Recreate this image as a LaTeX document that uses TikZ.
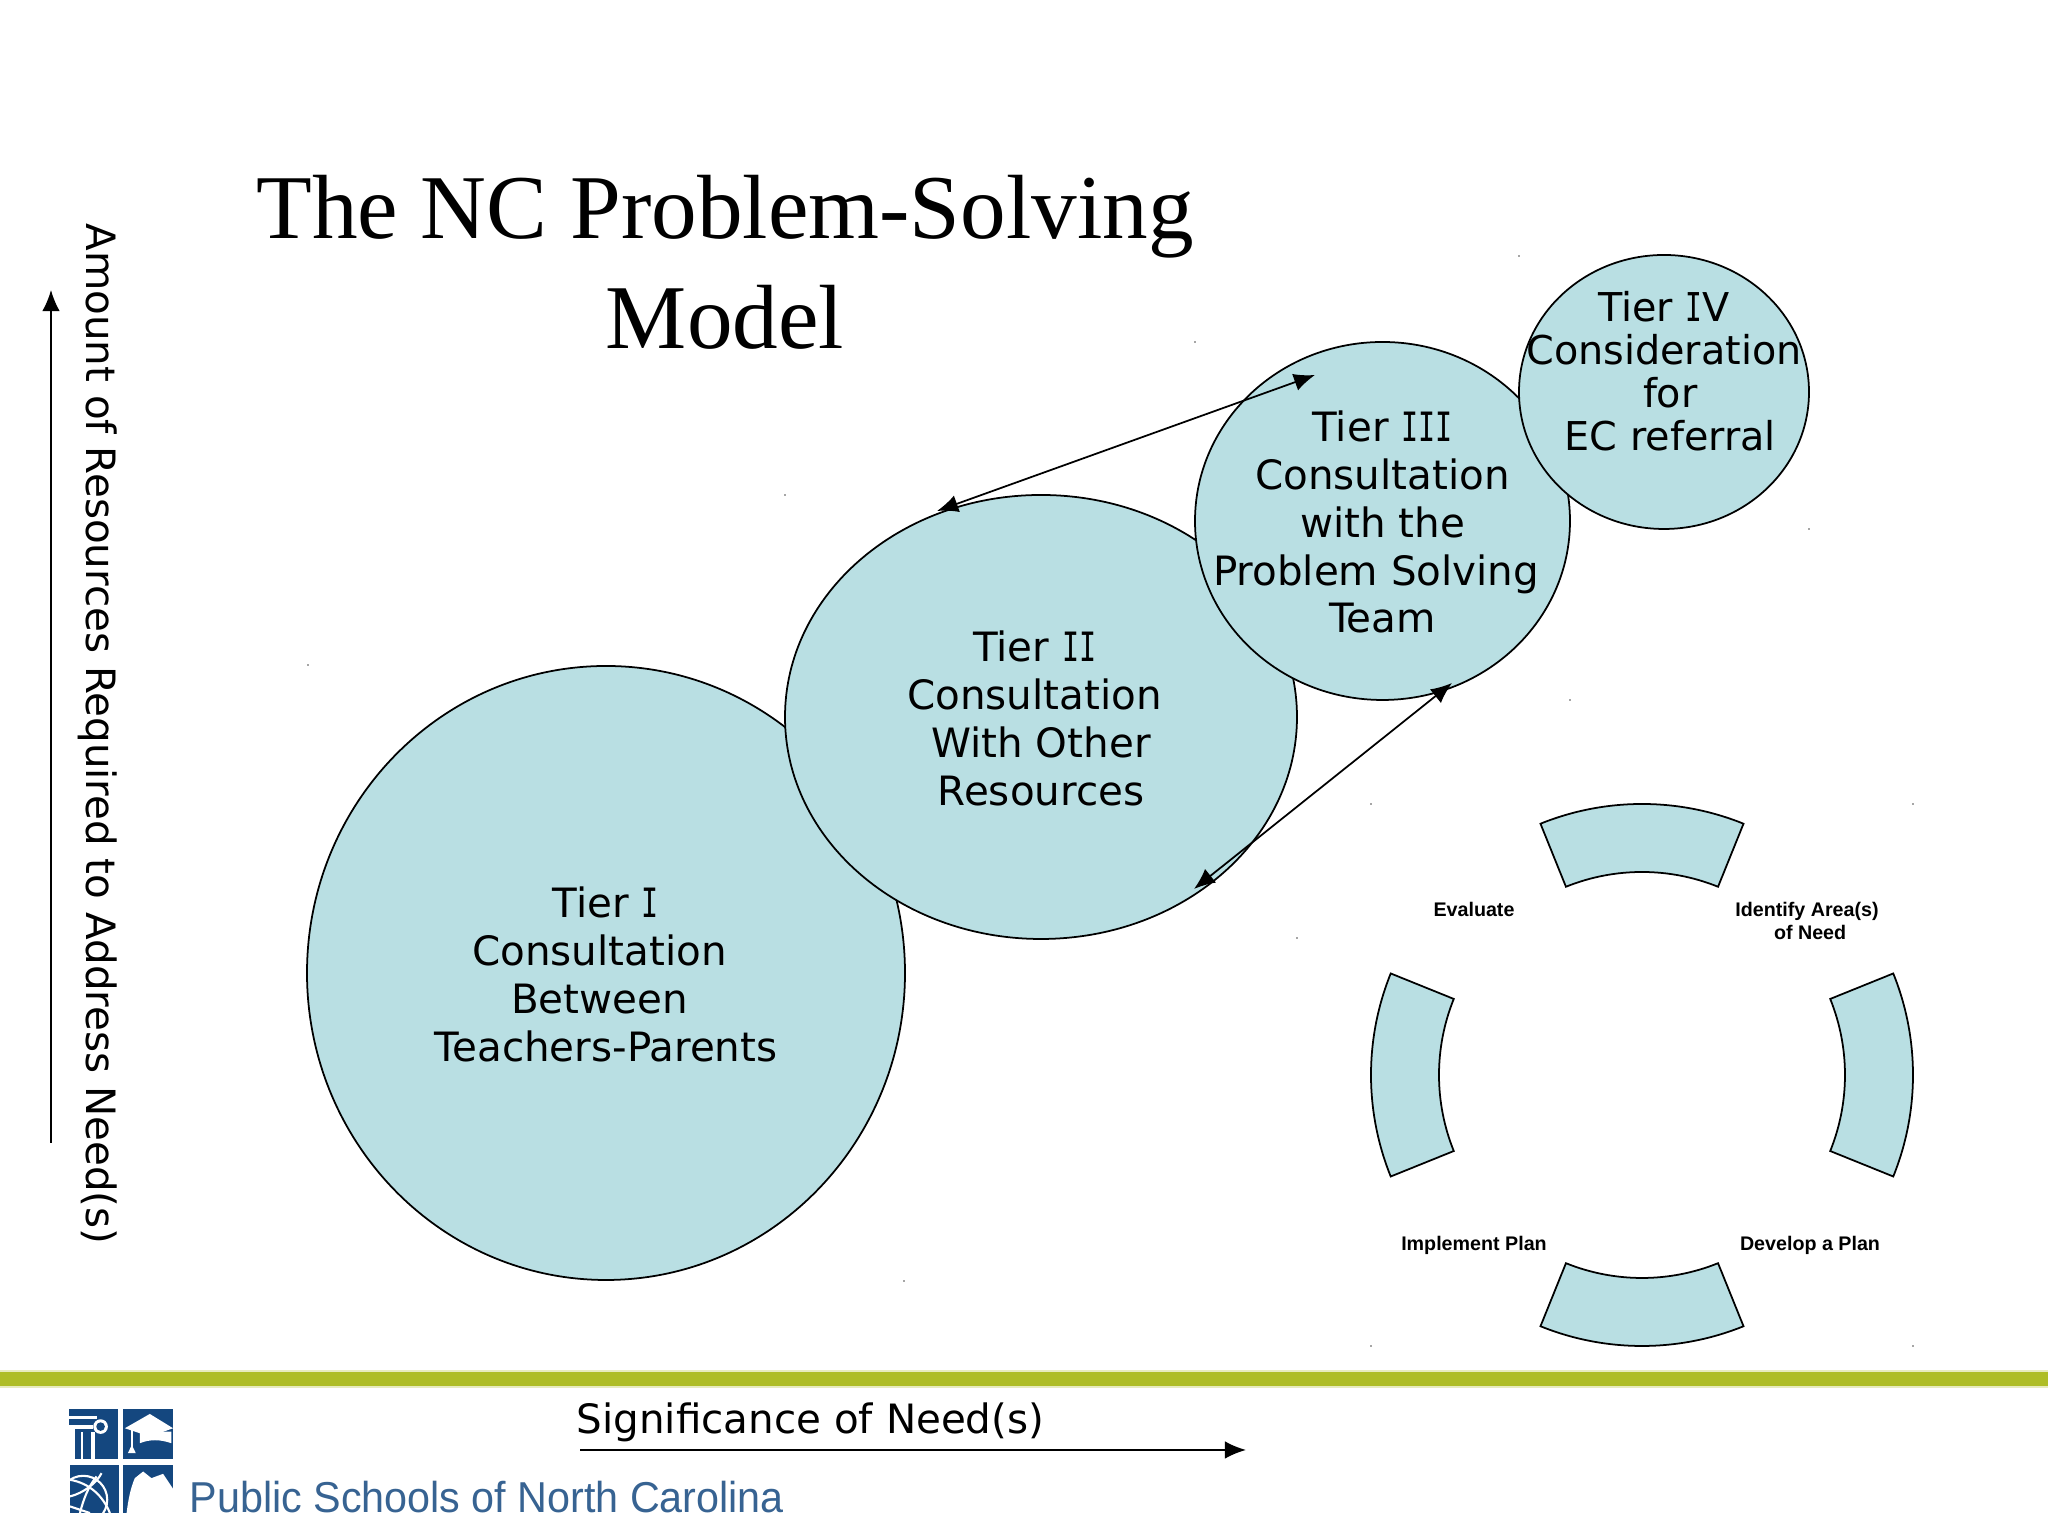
\documentclass[tikz,border=0pt]{standalone}
\usepackage{fontspec}
\setmainfont{DejaVu Sans}
\newfontfamily\titlefont{Liberation Serif}
\newfontfamily\armfont{Liberation Sans}
\newfontfamily\romfont[FakeStretch=0.7]{DejaVu Sans Mono}
\usetikzlibrary{shapes.geometric,arrows.meta}
\definecolor{tierfill}{HTML}{B9DFE3}
\definecolor{barcol}{HTML}{AEBD26}
\definecolor{logoblue}{HTML}{14477F}
\newcommand{\tsp}{\hbox to .318em{}}
\newcommand{\rom}[1]{{\romfont #1}}
\tikzset{
	tier/.style={ellipse,draw=black,fill=tierfill,inner sep=0pt,line width=0.5pt},
	tiertext/.style={align=center,font=\fontsize{11.5}{13.6}\selectfont},
	axistext/.style={font=\fontsize{11.5}{13.6}\selectfont},
	steptext/.style={align=center,font=\armfont\bfseries\fontsize{5.6}{6.6}\selectfont},
	seg/.style={draw=black,fill=tierfill,line width=0.5pt},
	both/.style={{Latex[length=6pt,width=5pt]}-{Latex[length=6pt,width=5pt]},line width=0.5pt},
	tick/.style={fill=gray!70,inner sep=0pt,minimum size=0.6pt}
}
\begin{document}
\begin{tikzpicture}
	\useasboundingbox (0,0) rectangle (20.48,15.36);
	\fill[white] (0,0) rectangle (20.48,15.36);

	\node[align=center,font=\titlefont\fontsize{25.95}{31.3}\selectfont] (title) at (7.25,12.74) {The NC Problem-Solving\\Model};

	\node[tier,minimum width=5.98cm,minimum height=6.14cm] (t1) at (6.06,5.63) {};
	\node[tier,minimum width=5.12cm,minimum height=4.44cm] (t2) at (10.41,8.19) {};
	\node[tier,minimum width=3.75cm,minimum height=3.58cm] (t3) at (13.825,10.15) {};
	\node[tier,minimum width=2.90cm,minimum height=2.74cm] (t4) at (16.64,11.44) {};

	\node[tiertext] (t1text) at (6.06,5.617) {Tier \rom{I}\\Consultation\tsp\\Between\tsp\\Teachers-Parents};
	\node[tiertext] (t2text) at (10.41,8.177) {Tier \rom{II}\tsp\\Consultation\tsp\\With Other\\Resources};
	\node[tiertext] (t3text) at (13.825,10.137) {Tier \rom{III}\\Consultation\\with the\\Problem Solving\tsp\\Team};
	\node[tiertext,font=\fontsize{11.3}{12.25}\selectfont] (t4text) at (16.64,11.65) {Tier \rom{I}V\\Consideration\\\tsp for\\\tsp EC referral};

	\coordinate (a1) at (13.15,11.61);
	\coordinate (a2) at (9.37,10.25);
	\coordinate (b1) at (14.52,8.53);
	\coordinate (b2) at (11.94,6.47);
	\draw[both] (a2) -- (a1);
	\draw[both] (b2) -- (b1);

	\foreach \a in {0,90,180,270}
		\draw[seg,shift={(16.42,4.61)},rotate=\a] (68:2.71) arc (68:112:2.71) -- (112:2.03) arc (112:68:2.03) -- cycle;

	\node[steptext] (evaluate) at (14.74,6.27) {Evaluate};
	\node[steptext] (identify) at (18.07,6.15) {Identify Area(s)\\\tsp of Need};
	\node[steptext] (implement) at (14.74,2.91) {Implement Plan};
	\node[steptext] (develop) at (18.10,2.91) {Develop a Plan};

	\foreach \x/\y in {13.71/7.32,19.13/7.32,13.71/1.90,19.13/1.90,12.97/5.98,9.04/2.55,3.08/8.71,7.85/10.41,11.95/11.94,15.19/12.80,18.09/10.07,15.70/8.36}
		\node[tick] at (\x,\y) {};

	\coordinate (vs) at (0.51,3.93);
	\coordinate (ve) at (0.51,12.46);
	\draw[-{Latex[length=6pt,width=5pt]},line width=0.5pt] (vs) -- (ve);
	\node[axistext,rotate=-90] (vlabel) at (0.98,8.02) {Amount of Resources Required to Address Need(s)};

	\fill[barcol!30] (0,1.48) rectangle (20.48,1.66);
	\fill[barcol] (0,1.50) rectangle (20.48,1.64);

	\node[axistext] (hlabel) at (8.105,1.14) {Significance of Need(s)};
	\coordinate (hs) at (5.80,0.86);
	\coordinate (he) at (12.46,0.86);
	\draw[-{Latex[length=6pt,width=5pt]},line width=0.5pt] (hs) -- (he);

	\begin{scope}[shift={(0.6,1.36)},x=0.003333cm,y=-0.003333cm]
		\fill[logoblue] (28,28) rectangle (175,178);
		\fill[white] (28,48) rectangle (110,58);
		\fill[white] (28,75) rectangle (100,88);
		\fill[white] (122,80) circle (22);
		\fill[logoblue] (122,80) circle (13);
		\fill[white] (28,88) rectangle (44,178);
		\fill[white] (62,95) rectangle (70,178);
		\fill[white] (92,95) rectangle (104,178);

		\fill[logoblue] (190,28) rectangle (340,178);
		\fill[white] (195,85) -- (270,42) -- (340,85) -- (270,110) -- cycle;
		\fill[white] (240,95) -- (335,95) -- (335,130) .. controls (300,118) and (270,118) .. (240,130) -- cycle;
		\fill[white] (212,88) rectangle (220,140);
		\fill[white] (216,135) -- (228,160) -- (204,160) -- cycle;

		\fill[logoblue] (30,195) rectangle (178,340);
		\begin{scope}
			\clip (30,195) rectangle (178,340);
			\draw[white,line width=0.6pt] (70,300) circle (72);
			\draw[white,line width=0.6pt] (30,240) .. controls (90,250) and (130,290) .. (150,340);
			\draw[white,line width=0.6pt] (30,290) .. controls (70,280) and (110,250) .. (125,220);
			\draw[white,line width=0.6pt] (30,320) -- (90,340);
			\draw[white,line width=0.6pt] (60,340) .. controls (70,300) and (85,260) .. (110,230);
		\end{scope}

		\fill[logoblue] (190,195) rectangle (340,340);
		\fill[white] (200,342) .. controls (205,300) and (212,265) .. (225,235) -- (250,215) -- (275,235) -- (310,222) -- (342,270) -- (342,342) -- cycle;
	\end{scope}

	\node[anchor=base west,inner sep=0pt,text=logoblue!85,xscale=0.955,transform shape,font=\armfont\fontsize{12.3}{14}\selectfont] (footer) at (1.89,0.23) {Public Schools of North Carolina};
\end{tikzpicture}
\end{document}
